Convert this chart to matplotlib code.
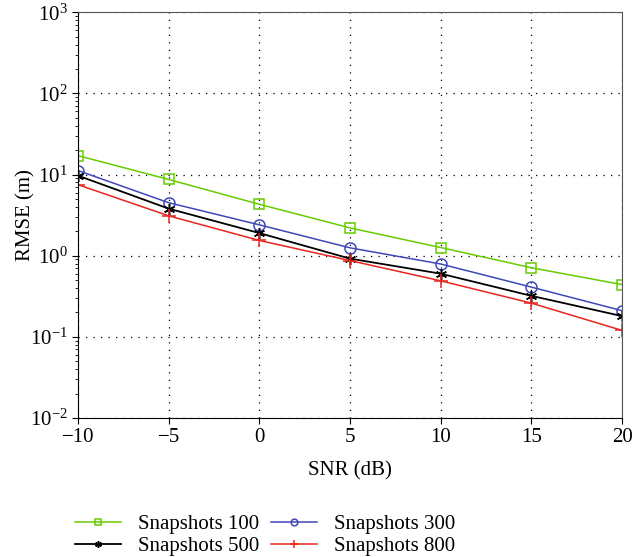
import matplotlib
matplotlib.use("Agg")
import matplotlib.pyplot as plt
from matplotlib.ticker import LogLocator, NullFormatter

plt.rcParams["font.family"] = ["Liberation Serif", "DejaVu Serif"]
plt.rcParams["mathtext.fontset"] = "stix"

# SNR values (dB)
snr = [-10, -5, 0, 5, 10, 15, 20]

# RMSE values (m)
rmse_100 = [17.1, 8.7, 4.3, 2.2, 1.26, 0.71, 0.44]
rmse_300 = [11.2, 4.5, 2.4, 1.25, 0.79, 0.41, 0.21]
rmse_500 = [9.7, 3.8, 1.9, 0.92, 0.60, 0.32, 0.18]
rmse_800 = [7.5, 3.1, 1.54, 0.87, 0.49, 0.26, 0.12]

fig = plt.figure(figsize=(6.44, 5.57), dpi=100)
ax = fig.add_axes([0.121, 0.2496, 0.845, 0.7284])

l100, = ax.plot(snr, rmse_100, color="#66cc00", marker="s", ms=7, mfc="none",
                mew=1.1, lw=1.1)
l300, = ax.plot(snr, rmse_300, color="#3f48b8", marker="o", ms=8, mfc="none",
                mew=1.1, lw=1.1)
l500, = ax.plot(snr, rmse_500, color="black", marker=(6, 2, 0), ms=8,
                mew=1.1, lw=1.3)
l800, = ax.plot(snr, rmse_800, color="#e8251f", marker="+", ms=10,
                mew=1.1, lw=1.1)

ax.set_yscale("log")
ax.set_xlim(-10, 20)
ax.set_ylim(1e-2, 1e3)
ax.set_xticks(snr)
ax.set_xticklabels(["\u221210", "\u22125", "0", "5", "10", "15", "20"])
ax.yaxis.set_major_locator(LogLocator(base=10, numticks=10))
ax.yaxis.set_minor_locator(LogLocator(base=10, subs=range(2, 10), numticks=50))
ax.yaxis.set_minor_formatter(NullFormatter())

ax.grid(True, which="major", color="black", linestyle=(0, (1, 5)), lw=0.9)
ax.tick_params(which="both", direction="out", labelsize=15, top=False, right=False)
ax.tick_params(which="major", length=4)
ax.tick_params(which="minor", length=2.5)

for side in ["top", "right"]:
    ax.spines[side].set_color("#555555")

ax.set_xlabel("SNR (dB)", fontsize=15, labelpad=10)
ax.set_ylabel("RMSE (m)", fontsize=15, labelpad=-4)

# legend: two columns below the plot, filled row by row
leg = fig.legend([l100, l500, l300, l800],
                 ["Snapshots 100", "Snapshots 500", "Snapshots 300", "Snapshots 800"],
                 ncol=2, loc="upper left", bbox_to_anchor=(0.094, 0.102),
                 frameon=False, fontsize=15, handlelength=2.2,
                 markerscale=0.6, columnspacing=0.6, labelspacing=0.1,
                 handletextpad=0.8, borderaxespad=0.3)

fig.savefig("out.png", dpi=100)
